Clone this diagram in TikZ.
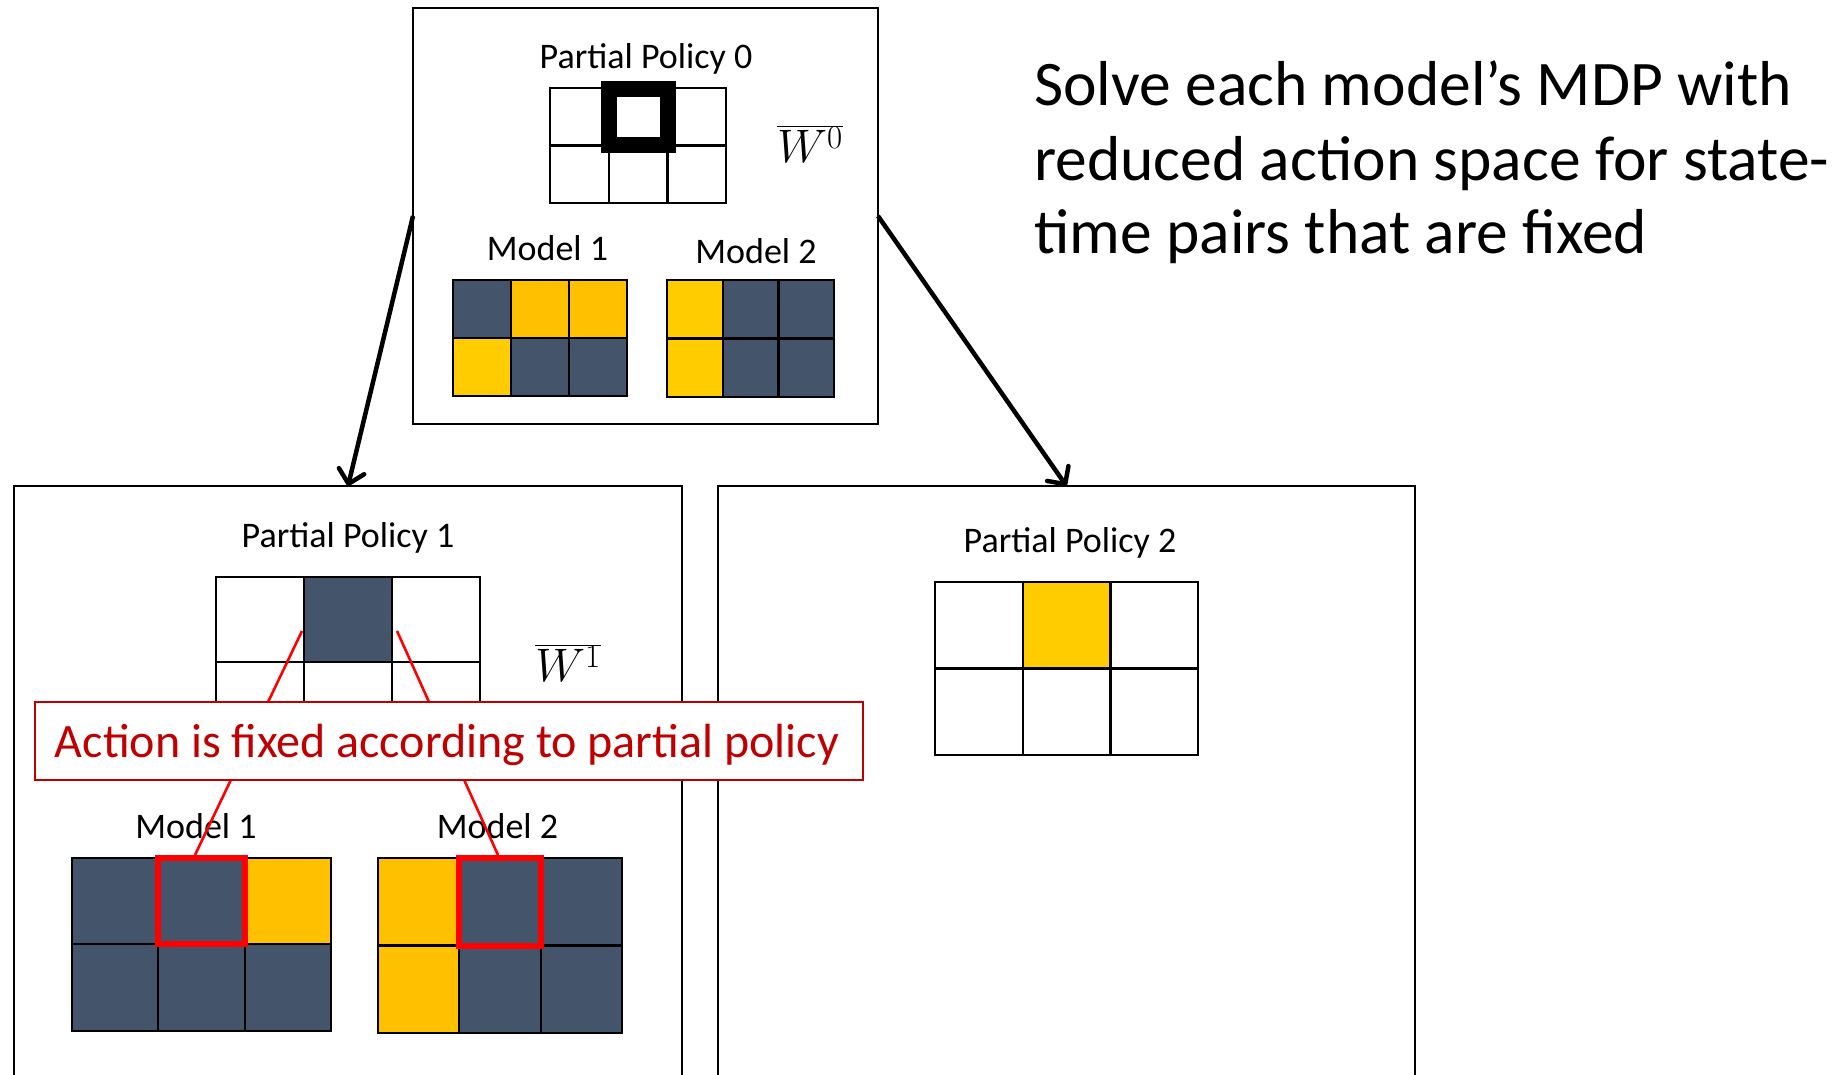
\documentclass[tikz,border=0pt]{standalone}
\usepackage{fix-cm}
\usepackage{fontspec}
\setmainfont{Carlito}
\usetikzlibrary{arrows.meta}

\definecolor{slate}{HTML}{44546A}
\definecolor{amber}{HTML}{FFC000}
\definecolor{gold}{HTML}{FFCC00}
\definecolor{darkred}{HTML}{C00000}
\definecolor{brightred}{HTML}{FF0000}

\tikzset{
  panel/.style={draw=black, line width=2.5, inner sep=0, outer sep=0, rectangle},
  gridline/.style={draw=black, line width=2.2},
  label/.style={inner sep=0, anchor=base, font=\fontsize{36}{40}\selectfont},
  wlabel/.style={inner sep=0, anchor=base, font=\fontsize{47}{50}\selectfont},
  flow/.style={line width=4.5, -{Straight Barb[length=13pt,width=26pt,round]}},
  pointer/.style={draw=brightred, line width=2.6},
  callout/.style={draw=darkred, line width=2, fill=white, inner sep=0, outer sep=0,
    minimum width=828, minimum height=78},
  highlight/.style={draw=brightred, line width=6},
  note/.style={inner sep=0, anchor=base west, font=\fontsize{63.5}{70}\selectfont}
}

% #1,#2 = top-left corner, #3,#4 = cell width and height, #5 = six fill colours
\newcommand\policygrid[5]{%
  \foreach \cc [count=\k from 0] in {#5} {
    \pgfmathtruncatemacro\ci{mod(\k,3)}
    \pgfmathtruncatemacro\ri{(\k-\ci)/3}
    \fill[\cc] ({#1+\ci*#3},{#2+\ri*#4}) rectangle ++(#3,#4);
  }
  \draw[gridline] (#1,#2) rectangle ++({3*#3},{2*#4});
  \draw[gridline] ({#1+#3},#2) -- ++(0,{2*#4});
  \draw[gridline] ({#1+2*#3},#2) -- ++(0,{2*#4});
  \draw[gridline] (#1,{#2+#4}) -- ++({3*#3},0);
}

\begin{document}
\begin{tikzpicture}[x=1pt,y=-1pt]
\useasboundingbox (0,0) rectangle (1847,1074);

% panels
\node[panel, minimum width=465, minimum height=416] (top) at (645.5,216) {};
\node[panel, minimum width=668, minimum height=640] (left) at (348,806) {};
\node[panel, minimum width=697, minimum height=640] (right) at (1066.5,806) {};

% branching arrows
\draw[flow] (top.west) -- (left.north);
\draw[flow] (top.east) -- (right.north);

% partial policy 0
\node[label] (pp0) at (646,68) {Partial Policy 0};
\policygrid{550}{88}{58.7}{57.5}{white,white,white,white,white,white}
\draw[line width=16] (609,88.5) rectangle (667.5,145);
\node[wlabel] (w0) at (810,162) {$\overline{W^{0}}$};
\node[label] (m1a) at (547.5,260) {Model 1};
\node[label] (m2a) at (756,263) {Model 2};
\policygrid{453}{280}{58}{58}{slate,amber,amber,gold,slate,slate}
\policygrid{667}{280}{55.7}{58.5}{gold,slate,slate,gold,slate,slate}

% partial policy 1
\node[label] (pp1) at (348,547) {Partial Policy 1};
\policygrid{216}{577}{88}{85}{white,slate,white,white,white,white}
\node[wlabel] (w1) at (568,681) {$\overline{W^{1}}$};
\node[label] (m1b) at (196,838) {Model 1};
\node[label] (m2b) at (497.5,838) {Model 2};
\policygrid{72}{858}{86.3}{86.3}{slate,slate,amber,slate,slate,slate}
\policygrid{378}{858}{81.3}{87.5}{amber,slate,slate,amber,slate,slate}

% fixed action pointers
\coordinate (p1a) at (302,631);
\coordinate (p1b) at (195,855);
\coordinate (p2a) at (397,631);
\coordinate (p2b) at (498,855);
\draw[pointer] (p1a) -- (p1b);
\draw[pointer] (p2a) -- (p2b);
\node[callout] (fixed) at (449,741) {};
\node[inner sep=0, anchor=base, text=darkred, font=\fontsize{48}{52}\selectfont]
  (fixedtxt) at (447,757) {Action is fixed according to partial policy};
\draw[highlight] (158.3,858) rectangle (244.6,944.3);
\draw[highlight] (459.3,858) rectangle (540.6,945.5);

% partial policy 2
\node[label] (pp2) at (1070,552) {Partial Policy 2};
\policygrid{935}{582}{87.7}{86.5}{white,gold,white,white,white,white}

% description
\node[note] (sol1) at (1034,105) {Solve each model’s MDP with};
\node[note] (sol2) at (1034,180) {reduced action space for state-};
\node[note] (sol3) at (1034,253) {time pairs that are fixed};
\end{tikzpicture}
\end{document}
